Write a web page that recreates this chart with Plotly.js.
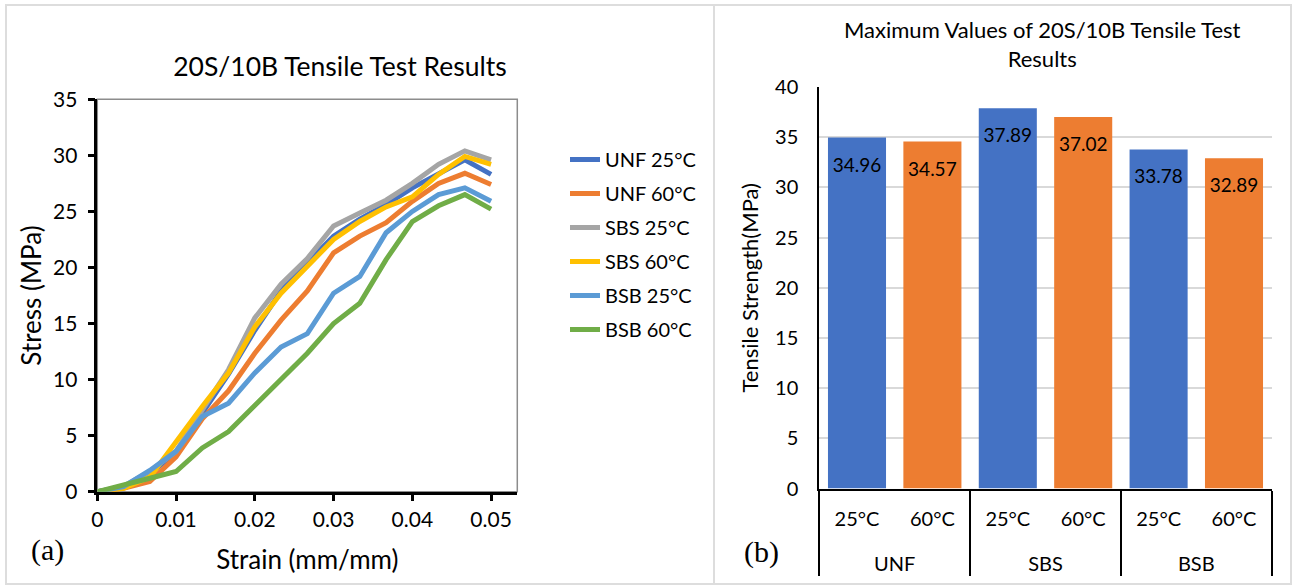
<!DOCTYPE html>
<html>
<head>
<meta charset="utf-8">
<script src="https://cdn.plot.ly/plotly-3.0.1.min.js"></script>
<style>
  html, body { margin: 0; padding: 0; background: #ffffff; }
  #chart { width: 1295px; height: 586px; }
</style>
</head>
<body>
<div id="chart"></div>
<script>
// ---- Data: stress-strain curves (left panel) ----
const strain = [0, 0.00333, 0.00667, 0.01, 0.01333, 0.01667, 0.02, 0.02333, 0.02667, 0.03, 0.03333, 0.03667, 0.04, 0.04333, 0.04667, 0.05];
const unf25 = [0, 0.4, 1.6, 3.5, 7.0, 10.5, 14.4, 17.9, 20.4, 22.8, 24.3, 25.6, 27.1, 28.4, 29.6, 28.3];
const unf60 = [0, 0.3, 0.9, 3.1, 6.5, 9.0, 12.35, 15.3, 17.9, 21.3, 22.8, 24.0, 25.9, 27.5, 28.4, 27.4];
const sbs25 = [0, 0.5, 1.8, 3.6, 7.3, 10.9, 15.5, 18.5, 20.8, 23.7, 24.85, 26.0, 27.5, 29.2, 30.4, 29.6];
const sbs60 = [0, 0.3, 1.3, 4.5, 7.6, 10.6, 14.7, 17.7, 20.1, 22.5, 24.1, 25.4, 26.3, 28.3, 29.9, 29.2];
const bsb25 = [0, 0.45, 1.9, 3.6, 6.7, 7.9, 10.6, 12.9, 14.1, 17.7, 19.2, 23.1, 25.0, 26.5, 27.1, 25.9];
const bsb60 = [0, 0.65, 1.2, 1.8, 3.9, 5.36, 7.74, 10.1, 12.35, 15.0, 16.8, 20.7, 24.1, 25.5, 26.5, 25.2];
const seriesNames = ["UNF 25°C", "UNF 60°C", "SBS 25°C", "SBS 60°C", "BSB 25°C", "BSB 60°C"];

// ---- Data: maximum tensile strength (right panel) ----
const groups = ["UNF", "UNF", "SBS", "SBS", "BSB", "BSB"];
const temps = ["25°C", "60°C", "25°C", "60°C", "25°C", "60°C"];
const maxStrength = [34.96, 34.57, 37.89, 37.02, 33.78, 32.89];

// ---- Styles ----
const lineColors = ["#4472C4", "#ED7D31", "#A5A5A5", "#FFC000", "#5B9BD5", "#70AD47"];
const tempColor = { "25°C": "#4472C4", "60°C": "#ED7D31" };
const FONT = "Lato, 'Open Sans', sans-serif";
const SERIF = "'Liberation Serif', 'Times New Roman', serif";
const W = 1295, H = 586;
const px = v => v / W;
const py = v => 1 - v / H;

const curves = [unf25, unf60, sbs25, sbs60, bsb25, bsb60];
const traces = curves.map((ys, i) => ({
  type: "scatter", mode: "lines",
  x: strain, y: ys,
  name: seriesNames[i],
  legendgroup: "g" + i,
  line: { color: lineColors[i], width: 5 },
  xaxis: "x", yaxis: "y",
  hoverinfo: "x+y+name"
}));

// category labels get an empty second line so the group row sits lower, as in the reference
const catX = [groups, temps.map(t => t + "<br><span style='font-size:37px'>\u00a0</span>")];

traces.push({
  type: "bar",
  x: catX,
  y: maxStrength,
  marker: { color: temps.map(t => tempColor[t]) },
  showlegend: false,
  hoverinfo: "y",
  xaxis: "x2", yaxis: "y2"
});

// value labels just inside the top of each bar
traces.push({
  type: "scatter",
  mode: "markers+text",
  x: catX,
  y: maxStrength,
  text: maxStrength.map(v => v.toFixed(2)),
  textposition: "bottom center",
  textfont: { family: FONT, size: 19, color: "#000000" },
  marker: { size: 30, opacity: 0 },
  showlegend: false,
  hoverinfo: "skip",
  xaxis: "x2", yaxis: "y2"
});

const layout = {
  width: W, height: H,
  margin: { l: 0, r: 0, t: 0, b: 0 },
  paper_bgcolor: "#ffffff",
  plot_bgcolor: "rgba(0,0,0,0)",
  font: { family: FONT, size: 20, color: "#000000" },
  showlegend: true,
  legend: {
    x: px(565), y: py(140), xanchor: "left", yanchor: "top",
    font: { family: FONT, size: 20, color: "#000000" },
    tracegroupgap: 5,
    bgcolor: "rgba(0,0,0,0)"
  },
  bargap: 0.23,
  title: {
    text: "20S/10B Tensile Test Results",
    x: px(340), xanchor: "center",
    y: py(67), yanchor: "middle",
    xref: "paper", yref: "paper",
    font: { family: FONT, size: 26.5, color: "#000000" }
  },
  xaxis: {
    domain: [px(97.3), px(517.3)],
    range: [0, 0.05333],
    tick0: 0, dtick: 0.01,
    showgrid: false, zeroline: false,
    showline: true, linecolor: "#000000", linewidth: 2.5,
    ticks: "outside", ticklen: 7, tickwidth: 2.5, tickcolor: "#000000",
    tickfont: { family: FONT, size: 21 },
    title: { text: "Strain (mm/mm)", font: { family: FONT, size: 26 }, standoff: 22 },
    anchor: "y"
  },
  yaxis: {
    domain: [py(491.7), py(99.3)],
    range: [0, 35],
    tick0: 0, dtick: 5,
    showgrid: false, zeroline: false,
    showline: true, linecolor: "#000000", linewidth: 2.5,
    ticks: "outside", ticklen: 7, tickwidth: 2.5, tickcolor: "#000000",
    ticklabelstandoff: 6,
    tickfont: { family: FONT, size: 21 },
    title: { text: "Stress (MPa)", font: { family: FONT, size: 26 }, standoff: 4 },
    anchor: "x"
  },
  xaxis2: {
    type: "multicategory",
    domain: [px(819.3), px(1271.7)],
    range: [-0.5, 5.5],
    showgrid: false, zeroline: false,
    showline: true, linecolor: "#000000", linewidth: 2,
    ticks: "",
    ticklabelstandoff: 11,
    showdividers: true, dividercolor: "#000000", dividerwidth: 2,
    tickfont: { family: FONT, size: 20 },
    anchor: "y2"
  },
  yaxis2: {
    domain: [py(488.5), py(87)],
    range: [0, 40],
    tick0: 0, dtick: 5,
    showgrid: true, gridcolor: "#D9D9D9", gridwidth: 2,
    zeroline: false,
    showline: true, linecolor: "#000000", linewidth: 2,
    ticks: "",
    ticklabelstandoff: 15,
    tickfont: { family: FONT, size: 20 },
    title: { text: "Tensile Strength(MPa)", font: { family: FONT, size: 22 }, standoff: 10 },
    anchor: "x2"
  },
  shapes: [
    { type: "rect", xref: "paper", yref: "paper", x0: px(6), x1: px(714), y0: py(584), y1: py(5),
      line: { color: "#DDDDDD", width: 2 }, layer: "below" },
    { type: "rect", xref: "paper", yref: "paper", x0: px(714), x1: px(1291), y0: py(584), y1: py(5),
      line: { color: "#DDDDDD", width: 2 }, layer: "below" },
    { type: "rect", xref: "x domain", yref: "y domain", x0: 0, x1: 1, y0: 0, y1: 1,
      line: { color: "#8C8C8C", width: 1.5 }, layer: "below" }
  ],
  annotations: [
    { text: "Maximum Values of 20S/10B Tensile Test<br>Results", xref: "paper", yref: "paper",
      x: px(1042), y: py(44), xanchor: "center", yanchor: "middle", showarrow: false,
      font: { family: FONT, size: 22, color: "#000000" } },
    { text: "(a)", xref: "paper", yref: "paper", x: px(47), y: py(550),
      xanchor: "center", yanchor: "middle", showarrow: false,
      font: { family: SERIF, size: 30, color: "#000000" } },
    { text: "(b)", xref: "paper", yref: "paper", x: px(761), y: py(552),
      xanchor: "center", yanchor: "middle", showarrow: false,
      font: { family: SERIF, size: 30, color: "#000000" } }
  ]
};

Plotly.newPlot("chart", traces, layout, { displayModeBar: false, responsive: false });
</script>
</body>
</html>
